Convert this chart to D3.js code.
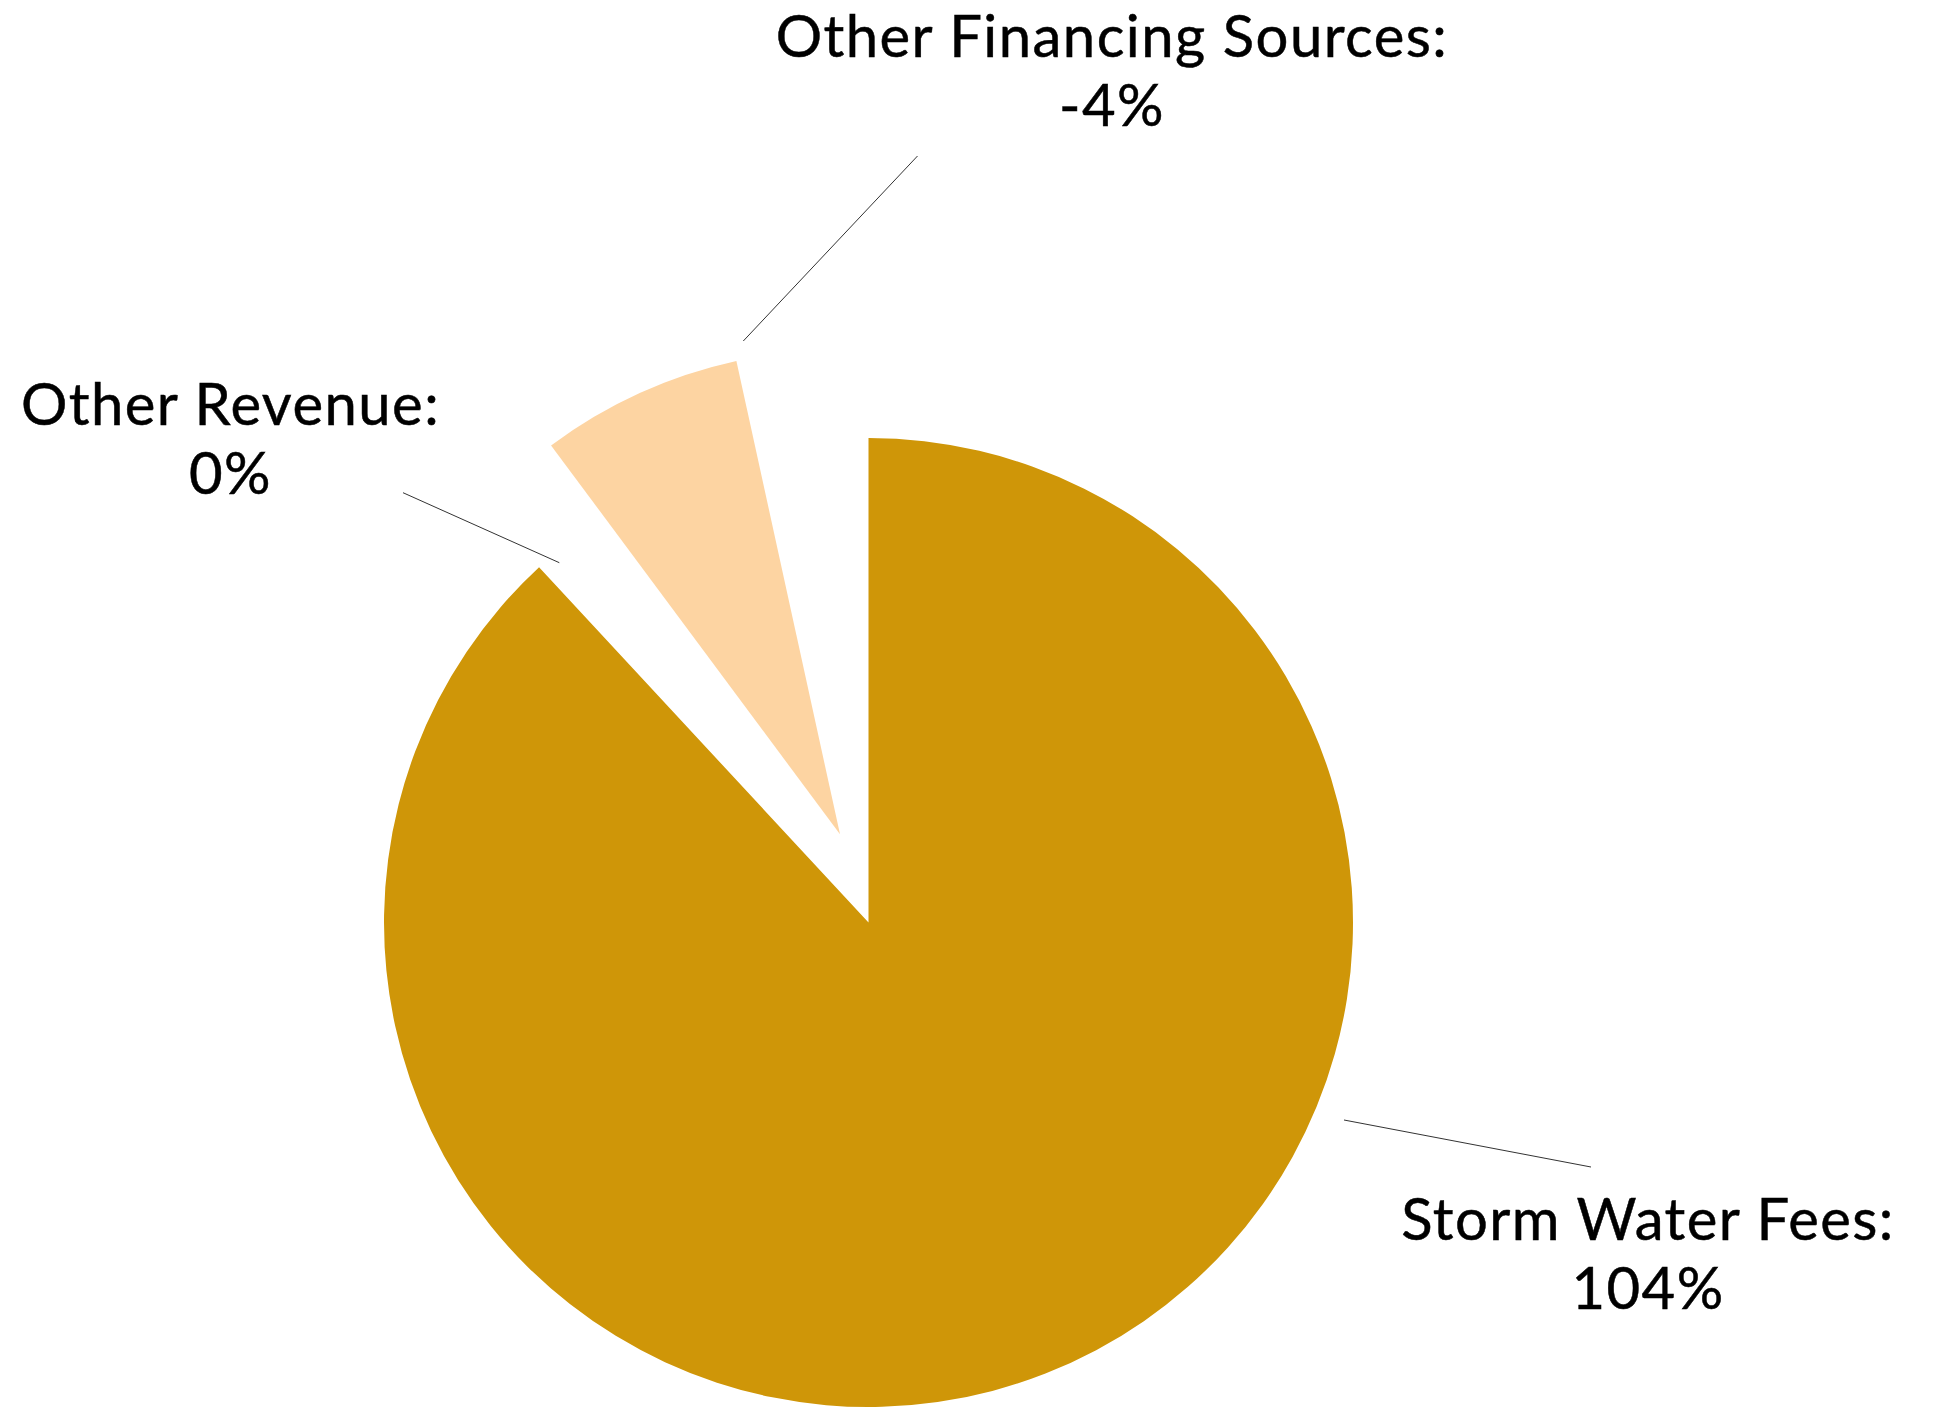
<!DOCTYPE html>
<html>
<head>
<meta charset="utf-8">
<script src="https://cdn.jsdelivr.net/npm/d3@7/dist/d3.min.js"></script>
<style>
  html, body { margin: 0; padding: 0; background: #ffffff; }
  svg { display: block; }
</style>
</head>
<body>
<svg id="chart" width="1939" height="1408"></svg>
<script>
// ---- data ----
const categories = ["Storm Water Fees", "Other Revenue", "Other Financing Sources"];
const percentValues = [104, 0, -4];                 // values printed in the labels
const sliceStartShare = [0, 88.1, 89.83];           // slice start, % of the full circle
const sliceEndShare = [88.1, 88.1, 96.57];          // slice end, % of the full circle
const sliceColors = ["#CF9608", "#FDD4A2", "#FDD4A2"];

// ---- layout ----
const W = 1939, H = 1408;
const cx = 868.5, cy = 922.5, R = 484.5;
const explode = [null, null, { angleDeg: -17.9, dist: 92.7 }];
const labelLayout = [
  { x: 779.5, y: 317.5, line: [[475.5, 197.5], [722.5, 244.5]] },
  { x: -638, y: -497.5, line: [[-309.2, -359.8], [-465.5, -429.8]] },
  { x: 243.5, y: -865.5, line: [[-125.2, -581.5], [49, -766.5]] }
];
const lineGap = 68.5;
const fontSize = 58;

const svg = d3.select("#chart");
const angle = d3.scaleLinear().domain([0, 100]).range([0, 2 * Math.PI]);
const arc = d3.arc().innerRadius(0).outerRadius(R);

const slices = categories.map((c, i) => ({
  name: c,
  value: percentValues[i],
  startAngle: angle(sliceStartShare[i]),
  endAngle: angle(sliceEndShare[i]),
  color: sliceColors[i],
  explode: explode[i]
}));

const g = svg.append("g").attr("transform", `translate(${cx},${cy})`);

g.selectAll("path.slice")
  .data(slices.filter(d => d.endAngle > d.startAngle))
  .join("path")
  .attr("class", "slice")
  .attr("fill", d => d.color)
  .attr("d", arc)
  .attr("transform", d => {
    if (!d.explode) return null;
    const [dx, dy] = d3.pointRadial(d.explode.angleDeg * Math.PI / 180, d.explode.dist);
    return `translate(${dx},${dy})`;
  });

// leader lines
g.selectAll("line.leader")
  .data(slices)
  .join("line")
  .attr("class", "leader")
  .attr("x1", (d, i) => labelLayout[i].line[0][0])
  .attr("y1", (d, i) => labelLayout[i].line[0][1])
  .attr("x2", (d, i) => labelLayout[i].line[1][0])
  .attr("y2", (d, i) => labelLayout[i].line[1][1])
  .attr("stroke", "#333")
  .attr("stroke-width", 1);

// labels
const fmt = v => `${v}%`;
const lbl = g.selectAll("text.label")
  .data(slices)
  .join("text")
  .attr("class", "label")
  .attr("text-anchor", "middle")
  .attr("font-family", "Lato, 'Open Sans', sans-serif")
  .attr("font-size", fontSize)
  .attr("letter-spacing", 1.45)
  .attr("fill", "#000")
  .attr("stroke", "#000")
  .attr("stroke-width", 0.5)
  .attr("x", (d, i) => labelLayout[i].x)
  .attr("y", (d, i) => labelLayout[i].y);
lbl.append("tspan").attr("x", (d, i) => labelLayout[i].x).text(d => d.name + ":");
lbl.append("tspan").attr("x", (d, i) => labelLayout[i].x).attr("dy", lineGap).text(d => fmt(d.value));
</script>
</body>
</html>
